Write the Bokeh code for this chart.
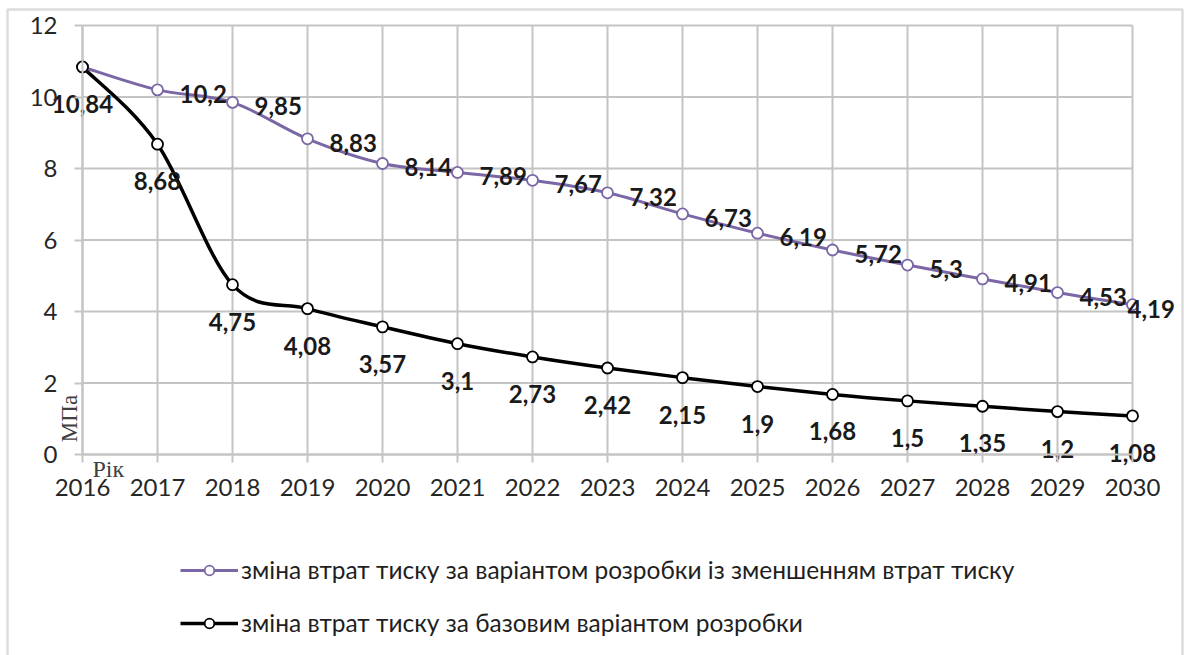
import numpy as np
from bokeh.plotting import figure
from bokeh.models import (ColumnDataSource, FixedTicker, Legend, LegendItem,
                          Label, BoxAnnotation, Range1d)
from bokeh.core.properties import value
from bokeh.embed import file_html
from bokeh.resources import INLINE

# ---------------- data ----------------
years = [2016, 2017, 2018, 2019, 2020, 2021, 2022, 2023,
         2024, 2025, 2026, 2027, 2028, 2029, 2030]
reduced_loss = [10.84, 10.2, 9.85, 8.83, 8.14, 7.89, 7.67, 7.32,
                6.73, 6.19, 5.72, 5.3, 4.91, 4.53, 4.19]
base_loss = [10.84, 8.68, 4.75, 4.08, 3.57, 3.1, 2.73, 2.42,
             2.15, 1.9, 1.68, 1.5, 1.35, 1.2, 1.08]
y_ticks = [0, 2, 4, 6, 8, 10, 12]
series_names = [
    "зміна втрат тиску за варіантом розробки із зменшенням втрат тиску",
    "зміна втрат тиску за базовим варіантом розробки",
]
y_unit = "МПа"
x_unit = "Рік"

# ---------------- layout (pixels) ----------------
W, H = 1184, 655
PX_LEFT, PX_RIGHT = 82, 1132      # x pixel of first / last year
PX_TOP, PX_BOTTOM = 25, 454       # y pixel of top / bottom tick

PURPLE = "#7b67a5"
BLACK = "#000000"
GRID = "#c4c4c4"
FONT = "Lato"

x_lo, x_hi = years[0], years[-1]
y_lo, y_hi = y_ticks[0], y_ticks[-1]
xs_per_px = (x_hi - x_lo) / (PX_RIGHT - PX_LEFT)
ys_per_px = (y_hi - y_lo) / (PX_BOTTOM - PX_TOP)
x_range = Range1d(x_lo - PX_LEFT * xs_per_px, x_hi + (W - PX_RIGHT) * xs_per_px)
y_range = Range1d(y_lo - (H - PX_BOTTOM) * ys_per_px, y_hi + PX_TOP * ys_per_px)


def fmt(v):
    return f"{v:g}".replace(".", ",")


def bezier_source(xs, ys):
    """Excel-like smoothing: cubic Bezier segments with Catmull-Rom (1/6) control points."""
    x = np.asarray(xs, float)
    y = np.asarray(ys, float)
    xp = np.concatenate([[x[0]], x, [x[-1]]])
    yp = np.concatenate([[y[0]], y, [y[-1]]])
    n = len(x)
    d = dict(x0=[], y0=[], x1=[], y1=[], cx0=[], cy0=[], cx1=[], cy1=[])
    for i in range(n - 1):
        p0 = (xp[i], yp[i]); p1 = (xp[i + 1], yp[i + 1])
        p2 = (xp[i + 2], yp[i + 2]); p3 = (xp[i + 3], yp[i + 3])
        d["x0"].append(p1[0]); d["y0"].append(p1[1])
        d["x1"].append(p2[0]); d["y1"].append(p2[1])
        d["cx0"].append(p1[0] + (p2[0] - p0[0]) / 6)
        d["cy0"].append(p1[1] + (p2[1] - p0[1]) / 6)
        d["cx1"].append(p2[0] - (p3[0] - p1[0]) / 6)
        d["cy1"].append(p2[1] - (p3[1] - p1[1]) / 6)
    return ColumnDataSource(d)


p = figure(width=W, height=H, x_range=x_range, y_range=y_range,
           output_backend="svg", toolbar_location=None,
           min_border_left=0, min_border_right=0, min_border_top=0,
           min_border_bottom=0)
p.title.visible = False
p.background_fill_color = "white"
p.border_fill_color = "white"
p.outline_line_color = None
p.xgrid.grid_line_color = None
p.ygrid.grid_line_color = None

# grid lines (drawn only over the data region)
p.segment(x0=years, x1=years, y0=[y_lo] * len(years), y1=[y_hi] * len(years),
          line_color=GRID, line_width=2)
p.segment(x0=[x_lo] * len(y_ticks), x1=[x_hi] * len(y_ticks), y0=y_ticks, y1=y_ticks,
          line_color=GRID, line_width=2)

# axes at fixed data locations
p.xaxis.ticker = FixedTicker(ticks=years)
p.yaxis.ticker = FixedTicker(ticks=y_ticks)
p.xaxis.fixed_location = y_lo
p.yaxis.fixed_location = x_lo
p.xaxis.bounds = (x_lo, x_hi)
p.yaxis.bounds = (y_lo, y_hi)
for ax in (p.xaxis, p.yaxis):
    ax.axis_line_color = GRID
    ax.axis_line_width = 2
    ax.major_tick_line_color = GRID
    ax.major_tick_line_width = 2
    ax.major_tick_out = 8
    ax.major_tick_in = 0
    ax.minor_tick_line_color = None
    ax.major_label_text_font = FONT
    ax.major_label_text_font_size = "24px"
    ax.major_label_text_color = "#262626"
p.xaxis.major_label_standoff = 16
p.yaxis.major_label_standoff = 17

# series
src_red = bezier_source(years, reduced_loss)
src_base = bezier_source(years, base_loss)
r_red_line = p.bezier(x0="x0", y0="y0", x1="x1", y1="y1", cx0="cx0", cy0="cy0",
                      cx1="cx1", cy1="cy1", source=src_red, line_color=PURPLE, line_width=3)
r_base_line = p.bezier(x0="x0", y0="y0", x1="x1", y1="y1", cx0="cx0", cy0="cy0",
                       cx1="cx1", cy1="cy1", source=src_base, line_color=BLACK, line_width=3.5)
r_red_pts = p.scatter(years, reduced_loss, marker="circle", size=11, fill_color="white",
                      line_color=PURPLE, line_width=1.8)
r_base_pts = p.scatter(years, base_loss, marker="circle", size=11, fill_color="white",
                       line_color=BLACK, line_width=1.8)

# data labels
red_lab = ColumnDataSource(dict(
    x=years[1:], y=reduced_loss[1:], t=[fmt(v) for v in reduced_loss[1:]],
    dx=[22] * (len(years) - 2) + [-5]))
p.text(x="x", y="y", text="t", source=red_lab, x_offset="dx", y_offset=4,
       text_align="left", text_baseline="middle", text_font=value(FONT),
       text_font_style="bold", text_font_size="24px", text_color="#1a1a1a")
base_lab = ColumnDataSource(dict(x=years, y=base_loss, t=[fmt(v) for v in base_loss]))
p.text(x="x", y="y", text="t", source=base_lab, y_offset=37,
       text_align="center", text_baseline="middle", text_font=value(FONT),
       text_font_style="bold", text_font_size="24px", text_color="#1a1a1a")

# unit labels
p.add_layout(Label(x=x_lo, y=y_lo, text=y_unit, angle=np.pi / 2, x_offset=-13, y_offset=36,
                   text_align="center", text_baseline="middle",
                   text_font="Liberation Serif", text_font_size="23px", text_color="#404040"))
p.add_layout(Label(x=x_lo, y=y_lo, text=x_unit, x_offset=10, y_offset=-14,
                   text_align="left", text_baseline="middle",
                   text_font="Liberation Serif", text_font_size="24px", text_color="#404040"))

# legend
legend = Legend(items=[
    LegendItem(label=series_names[0], renderers=[r_red_line, r_red_pts]),
    LegendItem(label=series_names[1], renderers=[r_base_line, r_base_pts]),
], location=(180, 18))
legend.padding = 0
legend.margin = 0
legend.spacing = 24
legend.glyph_width = 58
legend.glyph_height = 24
legend.label_height = 24
legend.label_standoff = 3
legend.label_text_font = FONT
legend.label_text_font_size = "24.5px"
legend.label_text_color = "#1f1f1f"
legend.border_line_color = None
legend.background_fill_alpha = 0
p.add_layout(legend, "center")

# outer chart border
p.add_layout(BoxAnnotation(left=7, right=1182, top=9, bottom=700,
                           left_units="canvas", right_units="canvas",
                           top_units="canvas", bottom_units="canvas",
                           fill_alpha=0, line_color="#8a8a8a", line_width=2.5))

open("out.html", "w").write(file_html(p, INLINE))
